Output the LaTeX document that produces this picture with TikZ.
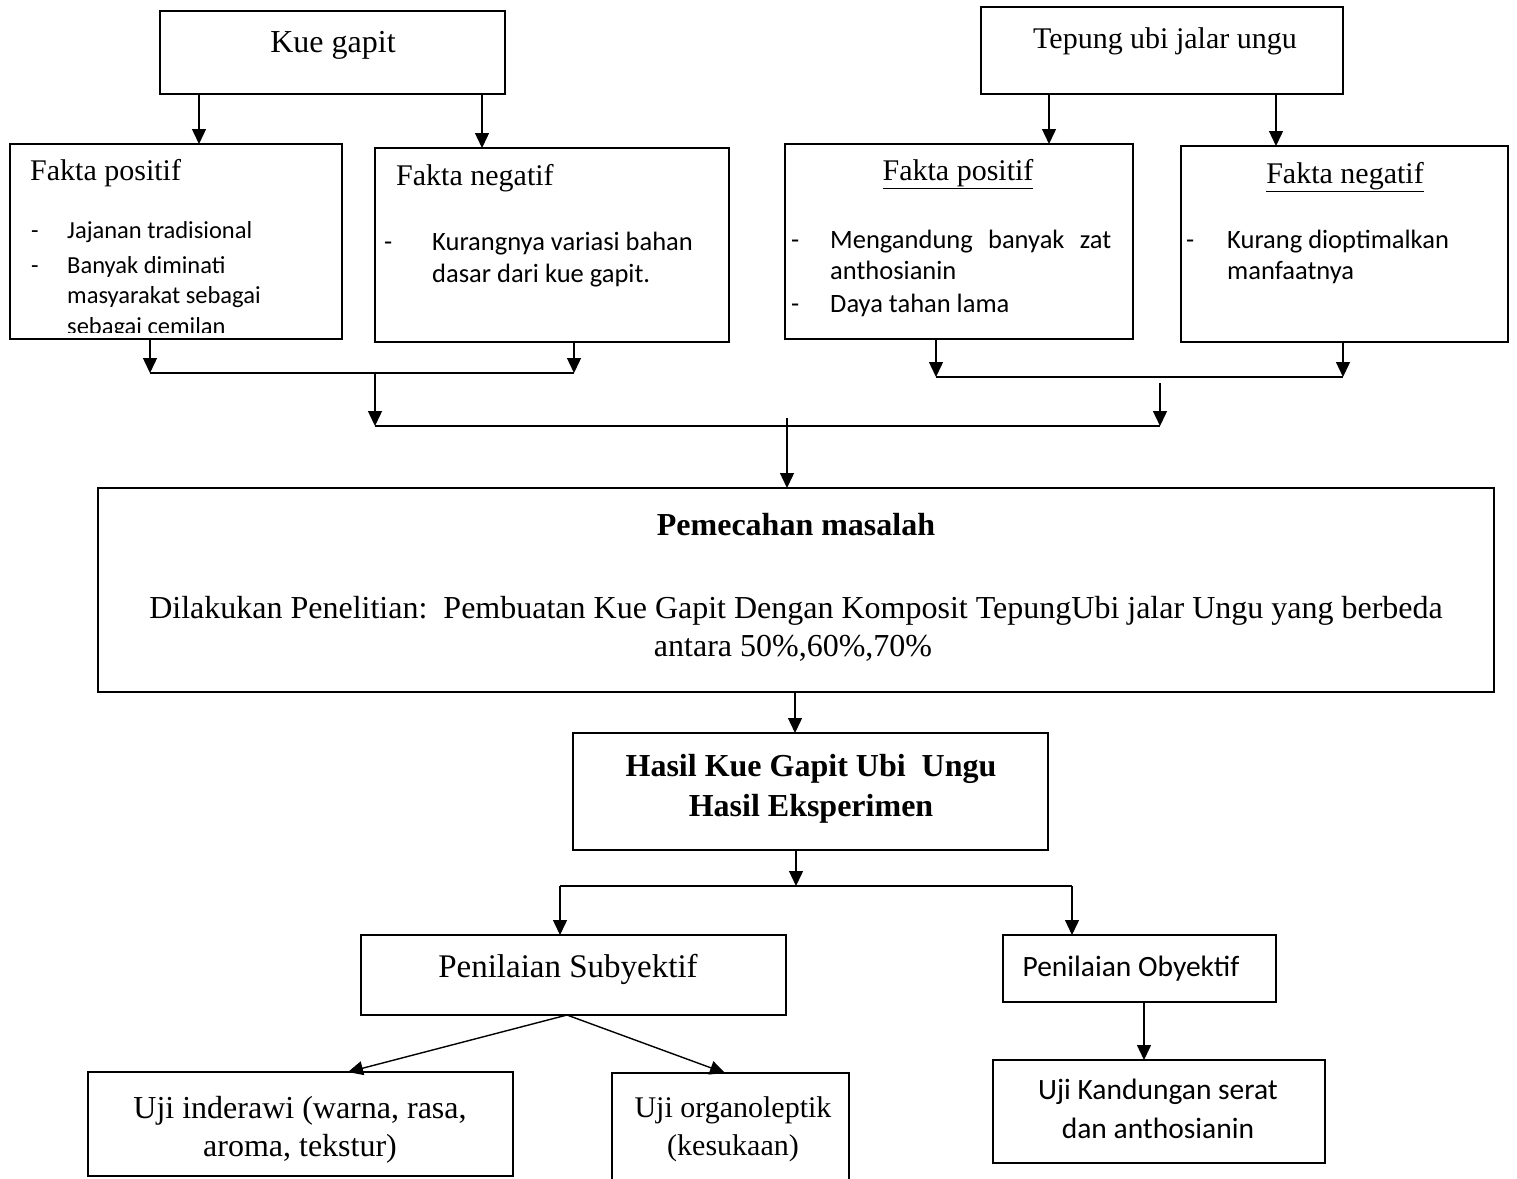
\documentclass[tikz,border=0pt]{standalone}
\usepackage{fontspec}
\setmainfont{Liberation Serif}
\newfontfamily\calfont{Carlito}
\usetikzlibrary{arrows.meta}

\begin{document}
\begin{tikzpicture}[x=1pt,y=-1pt,
  box/.style={draw, line width=1.4pt, inner sep=0pt, outer sep=0pt, anchor=north west},
  arr/.style={line width=1.4pt, -{Triangle[length=15pt,width=14pt]}},
  ln/.style={line width=1.4pt},
  tm/.style={font=\fontsize{32}{38}\selectfont, inner sep=0pt, anchor=base},
  tt/.style={font=\fontsize{30}{36}\selectfont, inner sep=0pt, anchor=base},
  ttw/.style={tt, anchor=base west},
  tmb/.style={font=\bfseries\fontsize{32}{38}\selectfont, inner sep=0pt, anchor=base},
  cs/.style={font=\calfont\fontsize{24.5}{30}\selectfont, inner sep=0pt, anchor=base west},
  cb/.style={font=\calfont\fontsize{26.5}{32}\selectfont, inner sep=0pt, anchor=base west},
  cc/.style={font=\calfont\fontsize{29.5}{35}\selectfont, inner sep=0pt, anchor=base},
]
\useasboundingbox (0,0) rectangle (1517,1178);
\fill[white] (0,0) rectangle (1517,1178);

% ---------- boxes ----------
\node[box, minimum width=345, minimum height=83]  (kue)    at (160,11)   {};
\node[box, minimum width=362, minimum height=87]  (tepung) at (981,7)    {};
\node[box, minimum width=332, minimum height=195] (fp1)    at (10,144)   {};
\node[box, minimum width=354, minimum height=194] (fn1)    at (375,148)  {};
\node[box, minimum width=348, minimum height=195] (fp2)    at (785,144)  {};
\node[box, minimum width=327, minimum height=196] (fn2)    at (1181,146) {};
\node[box, minimum width=1396, minimum height=204] (pem)   at (98,488)   {};
\node[box, minimum width=475, minimum height=117] (hasil)  at (573,733)  {};
\node[box, minimum width=425, minimum height=80]  (subj)   at (361,935)  {};
\node[box, minimum width=273, minimum height=67]  (obj)    at (1003,935) {};
\node[box, minimum width=332, minimum height=103] (kand)   at (993,1060) {};
\node[box, minimum width=425, minimum height=104] (inder)  at (88,1072)  {};
\node[box, minimum width=237, minimum height=140] (organo) at (612,1073) {};

% ---------- texts ----------
\node[tm] (kuet) at (333,52) {Kue gapit};
\node[tt] (tepungt) at (1165,48) {Tepung ubi jalar ungu};

\begin{scope}
  \clip (11,145) rectangle (341,332);
  \node[ttw] (fp1t) at (30,180) {Fakta positif};
  \node[cs] (fp1d1) at (31,238) {-};
  \node[cs] (fp1a) at (67,238) {Jajanan tradisional};
  \node[cs] (fp1d2) at (31,273) {-};
  \node[cs] (fp1b) at (67,273) {Banyak diminati};
  \node[cs] (fp1c) at (67,303) {masyarakat sebagai};
  \node[cs] (fp1e) at (67,334) {sebagai cemilan};
\end{scope}

\node[ttw] (fn1t) at (396,185) {Fakta negatif};
\node[cb] (fn1d1) at (384,250) {-};
\node[cb] (fn1a) at (432,250) {Kurangnya variasi bahan};
\node[cb] (fn1b) at (432,282) {dasar dari kue gapit.};

\node[tt] (fp2t) at (958,180) {\underline{Fakta positif}};
\node[cb] (fp2d1) at (791,248) {-};
\node[cb] (fp2a) at (830,248) {\makebox[281pt][s]{Mengandung banyak zat}};
\node[cb] (fp2b) at (830,279) {anthosianin};
\node[cb] (fp2d2) at (791,312) {-};
\node[cb] (fp2c) at (830,312) {Daya tahan lama};

\node[tt] (fn2t) at (1345,183) {\underline{Fakta negatif}};
\node[cb] (fn2d1) at (1186,248) {-};
\node[cb] (fn2a) at (1227,248) {Kurang dioptimalkan};
\node[cb] (fn2b) at (1227,279) {manfaatnya};

\node[tmb] (pemt) at (796,535) {Pemecahan masalah};
\node[tm] (peml1) at (796,618) {Dilakukan Penelitian:\ \ Pembuatan Kue Gapit Dengan Komposit TepungUbi jalar Ungu yang berbeda};
\node[tm] (peml2) at (793,656) {antara 50\%,60\%,70\%};

\node[tmb] (hasil1) at (811,776) {Hasil Kue Gapit Ubi\ \ Ungu};
\node[tmb] (hasil2) at (811,816) {Hasil Eksperimen};

\node[font=\fontsize{33}{39}\selectfont, inner sep=0pt, anchor=base] (subjt) at (568,977) {Penilaian Subyektif};
\node[cc] (objt) at (1131,976) {Penilaian Obyektif};
\node[cc] (kand1) at (1158,1099) {Uji Kandungan serat};
\node[cc] (kand2) at (1158,1138) {dan anthosianin};
\node[tm] (inder1) at (300,1118) {Uji inderawi (warna, rasa,};
\node[tm] (inder2) at (300,1156) {aroma, tekstur)};
\node[tt] (organo1) at (733,1117) {Uji organoleptik};
\node[tt] (organo2) at (733,1155) {(kesukaan)};

% ---------- connectors ----------
\coordinate (k1) at (199,0);
\coordinate (k2) at (482,0);
\coordinate (t1) at (1049,0);
\coordinate (t2) at (1276,0);
\draw[arr] (kue.south -| k1) -- (fp1.north -| k1);
\draw[arr] (kue.south -| k2) -- (fn1.north -| k2);
\draw[arr] (tepung.south -| t1) -- (fp2.north -| t1);
\draw[arr] (tepung.south -| t2) -- (fn2.north -| t2);

\coordinate (jA) at (150,373);
\coordinate (jB) at (574,373);
\coordinate (jC) at (375,373);
\coordinate (jD) at (375,426);
\coordinate (jE) at (936,377);
\coordinate (jF) at (1343,377);
\coordinate (jG) at (1160,383);
\coordinate (jH) at (1160,426);
\coordinate (jI) at (787,418);
\draw[arr] (fp1.south -| jA) -- (jA);
\draw[arr] (fn1.south -| jB) -- (jB);
\draw[ln] (jA) -- (jB);
\draw[arr] (jC) -- (jD);
\draw[arr] (fp2.south -| jE) -- (jE);
\draw[arr] (fn2.south -| jF) -- (jF);
\draw[ln] (jE) -- (jF);
\draw[arr] (jG) -- (jH);
\draw[ln] (jD) -- (jH);
\draw[arr] (jI) -- (pem.north -| jI);

\coordinate (p1) at (795,0);
\draw[arr] (pem.south -| p1) -- (hasil.north -| p1);

\coordinate (jL) at (796,886);
\coordinate (jM) at (560,886);
\coordinate (jN) at (1072,886);
\draw[arr] (hasil.south -| jL) -- (jL);
\draw[ln] (jM) -- (jN);
\draw[arr] (jM) -- (subj.north -| jM);
\draw[arr] (jN) -- (obj.north -| jN);

\coordinate (sA) at (567,0);
\coordinate (iT) at (348,0);
\coordinate (oT) at (725,0);
\coordinate (oX) at (1144,0);
\draw[arr] (subj.south -| sA) -- (inder.north -| iT);
\draw[arr] (subj.south -| sA) -- (organo.north -| oT);
\draw[arr] (obj.south -| oX) -- (kand.north -| oX);
\end{tikzpicture}
\end{document}
